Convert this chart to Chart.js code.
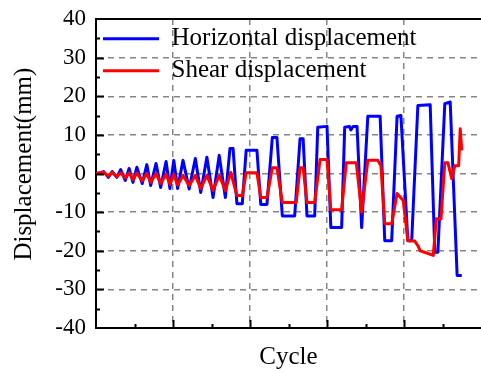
<!DOCTYPE html>
<html>
<head>
<meta charset="utf-8">
<title>Displacement vs cycle</title>
<script src="https://cdn.jsdelivr.net/npm/chart.js@4/dist/chart.umd.min.js"></script>
<style>
    html, body { margin: 0; padding: 0; background: #fff; overflow: hidden; }
    #wrap { width: 481px; height: 374px; }
</style>
</head>
<body>
<div id="wrap"><canvas id="dispChart" width="481" height="374"></canvas></div>
<script>
// Horizontal displacement trace (cycle position, mm)
const horizX = [0, 5, 10, 16, 21, 27, 32, 38, 43, 48, 53, 60, 66, 71, 78, 84, 91, 96, 101, 106,
    113, 121, 129, 136, 144, 152, 160, 168, 174, 178, 183, 190, 195, 209, 214, 222, 229, 235, 242, 258,
    265, 269, 274, 284, 288, 300, 305, 319, 323, 329, 331, 334, 339, 345, 353, 369, 375, 384, 391, 396,
    405, 410, 418, 434, 440, 444, 453, 460, 469, 475];
const horizY = [0, 0.1, 0.5, -1.0, 0.5, -1.0, 1.0, -1.8, 1.3, -2.3, 1.6, -2.6, 2.3, -3.1, 2.6, -3.6, 3.1, -3.9, 3.4, -3.9,
    3.4, -4.0, 3.9, -4.9, 4.2, -6.2, 4.7, -6.2, 6.5, 6.5, -7.8, -7.8, 6.0, 6.0, -8.0, -8.0, 9.3, 9.3, -11, -11,
    9.0, 9.0, -11, -11, 12.0, 12.2, -14, -14, 12.0, 12.2, 11.3, 12.2, 12.2, -14, 14.8, 14.8, -17.4, -17.4, 14.8, 15.0,
    -17.4, -17.4, 17.6, 17.8, -20.4, -20.4, 18.1, 18.5, -26.4, -26.4];

// Shear displacement trace
const shearX = [0, 5, 10, 16, 21, 27, 32, 38, 43, 48, 53, 60, 66, 71, 78, 84, 91, 96, 101, 106,
    113, 121, 129, 136, 144, 152, 160, 168, 175, 183, 190, 195, 209, 214, 222, 229, 235, 242, 260, 265,
    269, 274, 284, 291, 300, 305, 319, 325, 338, 345, 353, 366, 370, 375, 384, 391, 399, 405, 414, 418,
    421, 438, 442, 448, 453, 457, 462, 466, 471, 473, 475];
const shearY = [0, 0.2, 0.3, -0.7, 0.3, -0.8, 0.2, -1.2, 0.2, -1.6, 0.1, -1.9, 0.0, -2.3, 0.0, -2.6, -0.2, -2.8, -0.3, -3.0,
    -0.5, -3.1, -0.5, -3.9, -0.5, -4.4, -0.5, -4.4, 0.3, -5.7, -5.7, 0.2, 0.2, -6.2, -6.2, 1.5, 1.5, -7.5, -7.5, 1.5,
    1.5, -7.5, -7.5, 3.6, 3.6, -9.4, -9.4, 2.8, 2.8, -10, 3.4, 3.4, 2.0, -13, -13, -5.2, -7.0, -17.4, -17.5, -18.7,
    -20, -21.2, -11.7, -11.8, 2.8, 2.8, -1.3, 2.0, 2.0, 11.6, 6.0];

const yMin = -40;
const yMax = 40;
const yStep = 10;
const xMin = 0;
const xMax = 500;
const xStep = 100;

const serif = "'Liberation Serif', 'Times New Roman', serif";

function toPoints(xs, ys) {
    return xs.map((x, i) => ({ x: x, y: ys[i] }));
}

// closed top edge plus the small inward tick marks on both axes
const frameTicks = {
    id: 'frameTicks',
    afterDraw(chart) {
        const { ctx, chartArea, scales } = chart;
        const x = scales.x;
        const y = scales.y;
        ctx.save();
        ctx.strokeStyle = '#000';
        ctx.lineWidth = 2;
        ctx.beginPath();
        ctx.moveTo(chartArea.left - 1, chartArea.top);
        ctx.lineTo(chartArea.right, chartArea.top);
        for (let v = yMin + yStep / 2; v < yMax; v += yStep / 2) {
            const py = Math.round(y.getPixelForValue(v)) + 0.5;
            const len = v % yStep === 0 ? 8 : 4;
            ctx.moveTo(chartArea.left, py);
            ctx.lineTo(chartArea.left + len, py);
        }
        for (let v = xMin + xStep / 2; v < xMax; v += xStep / 2) {
            const px = Math.round(x.getPixelForValue(v)) + 0.5;
            const len = v % xStep === 0 ? 8 : 4;
            ctx.moveTo(px, chartArea.bottom);
            ctx.lineTo(px, chartArea.bottom - len);
        }
        ctx.stroke();
        ctx.restore();
    }
};

const innerGrid = (lo, hi) => (ctx) => {
    const v = ctx.tick ? ctx.tick.value : null;
    return (v === lo || v === hi) ? 'rgba(0,0,0,0)' : '#858585';
};

new Chart(document.getElementById('dispChart'), {
    type: 'line',
    data: {
        datasets: [
            {
                label: 'Horizontal displacement',
                data: toPoints(horizX, horizY),
                borderColor: '#0000ff',
                backgroundColor: '#0000ff',
                borderWidth: 3,
                pointRadius: 0,
                tension: 0,
                borderJoinStyle: 'round',
                pointStyle: 'line',
                order: 2
            },
            {
                label: 'Shear displacement',
                data: toPoints(shearX, shearY),
                borderColor: '#ff0000',
                backgroundColor: '#ff0000',
                borderWidth: 3,
                pointRadius: 0,
                tension: 0,
                borderJoinStyle: 'round',
                pointStyle: 'line',
                order: 1
            }
        ]
    },
    options: {
        responsive: false,
        animation: false,
        layout: { padding: { top: 19, right: 0, bottom: 0, left: 0 } },
        plugins: {
            tooltip: { enabled: false },
            legend: {
                position: 'chartArea',
                align: 'start',
                // empty title only pushes the entries down from the top edge
                title: { display: true, text: '', font: { size: 1 }, padding: { top: 18, bottom: 0 } },
                labels: {
                    usePointStyle: true,
                    pointStyleWidth: 56,
                    boxHeight: 3,
                    padding: 7,
                    color: '#000',
                    font: { family: serif, size: 25 },
                    sort: (a, b) => a.datasetIndex - b.datasetIndex
                }
            }
        },
        scales: {
            x: {
                type: 'linear',
                min: xMin,
                max: xMax,
                afterFit: (scale) => { scale.height = 46; },
                ticks: { display: false, stepSize: xStep },
                grid: { color: innerGrid(xMin, xMax), lineWidth: 1.5, drawTicks: false },
                border: { color: '#000', width: 2, dash: [6, 5] },
                title: {
                    display: true,
                    text: 'Cycle',
                    color: '#000',
                    font: { family: serif, size: 25 },
                    padding: { top: 0, bottom: 2 }
                }
            },
            y: {
                min: yMin,
                max: yMax,
                afterFit: (scale) => { scale.width = 96; },
                ticks: {
                    stepSize: yStep,
                    color: '#000',
                    padding: 0,
                    font: { family: serif, size: 23 }
                },
                grid: {
                    color: innerGrid(yMin, yMax),
                    lineWidth: 1.5,
                    drawTicks: true,
                    tickLength: 10,
                    tickColor: 'rgba(0,0,0,0)'
                },
                border: { color: '#000', width: 2, dash: [6, 5] },
                title: {
                    display: true,
                    text: '   Displacement(mm)',
                    color: '#000',
                    font: { family: serif, size: 25 },
                    padding: { top: 9, bottom: 0 }
                }
            }
        }
    },
    plugins: [frameTicks]
});
</script>
</body>
</html>
